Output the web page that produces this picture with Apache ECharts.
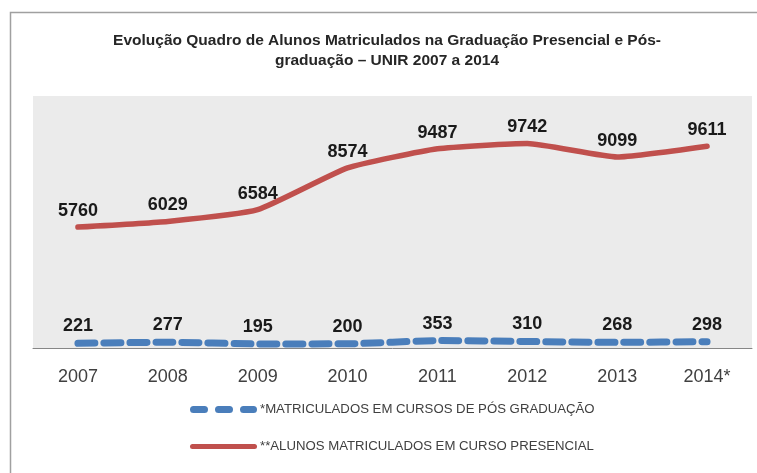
<!DOCTYPE html>
<html>
<head>
<meta charset="utf-8">
<script src="https://cdn.jsdelivr.net/npm/echarts@6/dist/echarts.min.js"></script>
<style>
html,body{margin:0;padding:0;background:#fff;}
#chart{width:757px;height:473px;}
</style>
</head>
<body>
<div id="chart"></div>
<script>
const categories = ['2007','2008','2009','2010','2011','2012','2013','2014*'];
const posGraduacao = [221, 277, 195, 200, 353, 310, 268, 298];
const presencial = [5760, 6029, 6584, 8574, 9487, 9742, 9099, 9611];
const seriesNames = ['*MATRICULADOS EM CURSOS DE PÓS GRADUAÇÃO', '**ALUNOS MATRICULADOS EM CURSO PRESENCIAL'];
const titleText = 'Evolução Quadro de Alunos Matriculados na Graduação Presencial e Pós-\ngraduação – UNIR 2007 a 2014';

const chart = echarts.init(document.getElementById('chart'), null, {renderer: 'canvas'});
const labelFont = {fontFamily: 'Liberation Sans', fontWeight: 'bold', fontSize: 18, color: '#1a1a1a'};
chart.setOption({
  animation: false,
  backgroundColor: '#ffffff',
  graphic: [{
    type: 'rect', shape: {x: 10.5, y: 12.5, width: 800, height: 500},
    style: {fill: 'none', stroke: '#a0a0a0', lineWidth: 1.5}, silent: true, z: -10
  }],
  title: {
    text: titleText,
    left: 382, top: 26, textAlign: 'center',
    textStyle: {fontFamily: 'Liberation Sans', fontWeight: 'bold', fontSize: 15.5, color: '#262626', lineHeight: 20}
  },
  grid: {left: 33, right: 5, top: 96, bottom: 125, show: true, backgroundColor: '#ebebeb', borderWidth: 0},
  legend: {
    orient: 'vertical', left: 185, top: 398, itemGap: 24,
    itemWidth: 67, itemHeight: 7,
    textStyle: {fontFamily: 'Liberation Sans', fontSize: 13.2, color: '#404040', padding: [0, 0, 0, -2]},
    data: [
      {name: seriesNames[0], icon: 'path://M3.5,0h11a3.5,3.5 0 0 1 0,7h-11a3.5,3.5 0 0 1 0,-7z M28.5,0h11a3.5,3.5 0 0 1 0,7h-11a3.5,3.5 0 0 1 0,-7z M53.5,0h10a3.5,3.5 0 0 1 0,7h-10a3.5,3.5 0 0 1 0,-7z', itemStyle: {color: '#4a7ebb'}},
      {name: seriesNames[1], icon: 'path://M2.5,0h62a2.5,2.5 0 0 1 0,5h-62a2.5,2.5 0 0 1 0,-5z', itemStyle: {color: '#c0504d'}}
    ]
  },
  xAxis: {
    type: 'category', data: categories, boundaryGap: true,
    axisLine: {lineStyle: {color: '#868686', width: 1}},
    axisTick: {show: false},
    axisLabel: {fontFamily: 'Liberation Sans', fontSize: 18, color: '#404040', margin: 20}
  },
  yAxis: {
    type: 'value', min: 0, max: 12000, show: false,
    splitLine: {show: false}
  },
  series: [
    {
      name: seriesNames[0], type: 'line', data: posGraduacao, smooth: 0.15,
      symbol: 'circle', symbolSize: 0, showSymbol: true,
      lineStyle: {color: '#4a7ebb', width: 7, type: [17, 9], cap: 'round'},
      itemStyle: {color: '#4a7ebb'},
      label: {show: true, position: 'top', distance: 8, ...labelFont}
    },
    {
      name: seriesNames[1], type: 'line', data: presencial, smooth: 0.15,
      symbol: 'circle', symbolSize: 0, showSymbol: true,
      lineStyle: {color: '#c0504d', width: 5.5, cap: 'round'},
      itemStyle: {color: '#c0504d'},
      label: {show: true, position: 'top', distance: 7, ...labelFont}
    }
  ]
});
</script>
</body>
</html>
